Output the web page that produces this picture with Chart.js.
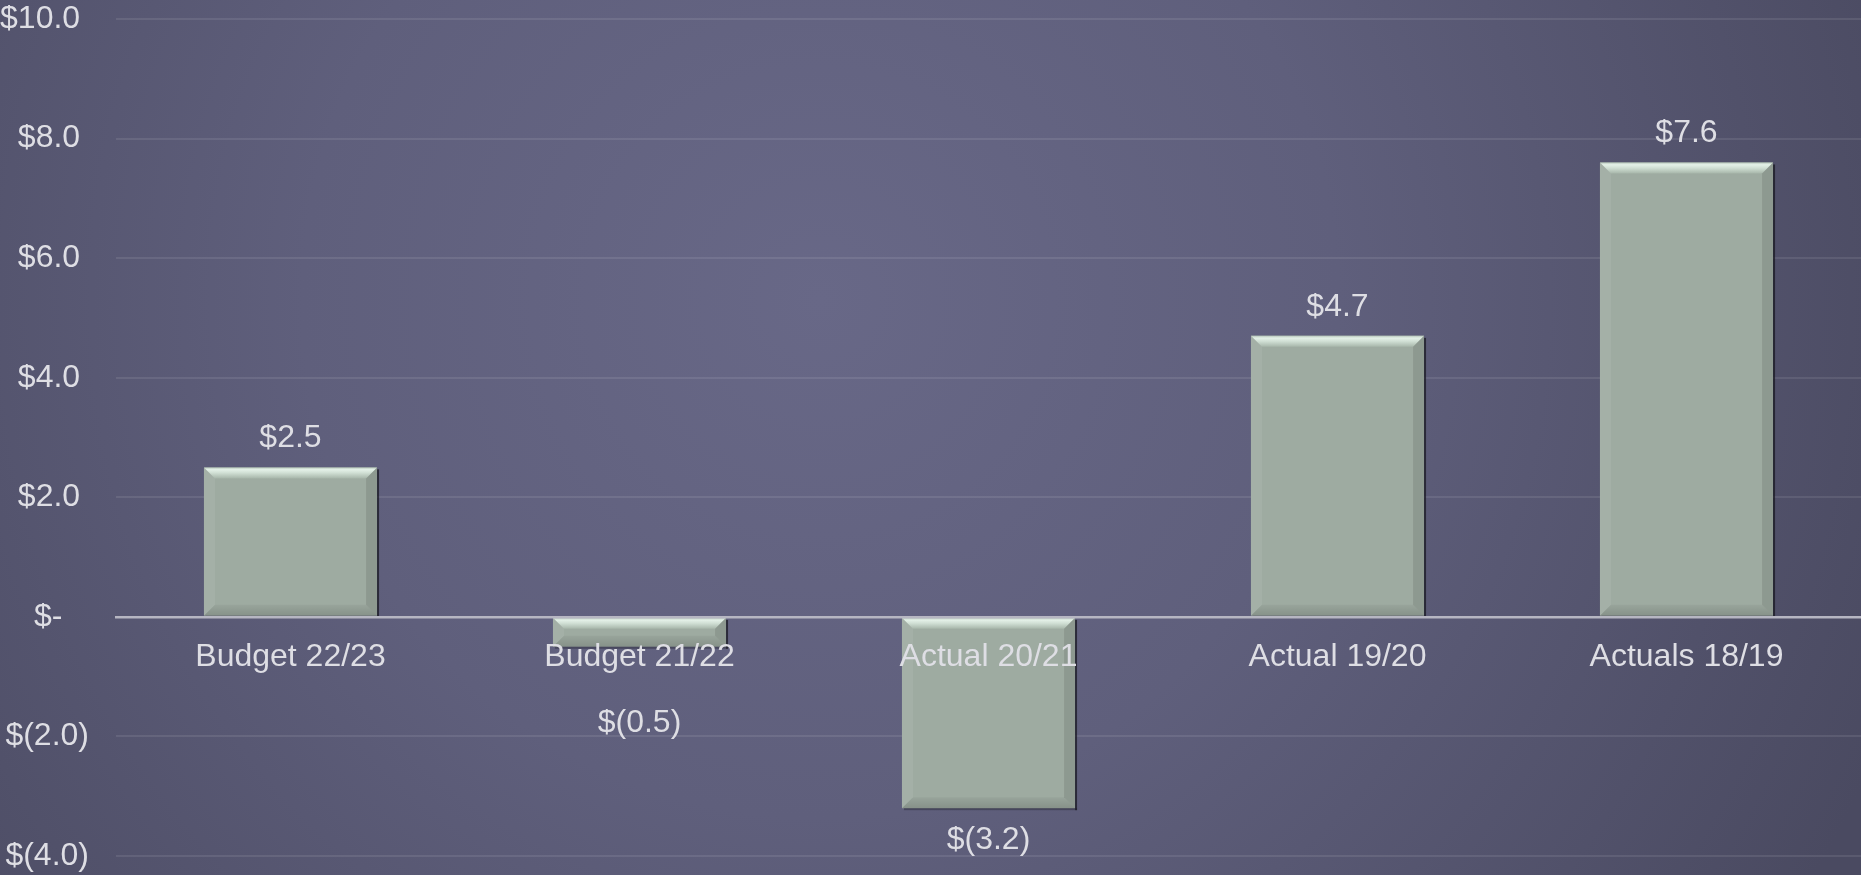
<!DOCTYPE html>
<html>
<head>
<meta charset="utf-8">
<script src="https://cdn.jsdelivr.net/npm/chart.js@4/dist/chart.umd.min.js"></script>
<style>
html,body{margin:0;padding:0;background:#55556e;overflow:hidden;}
#wrap{width:1861px;height:875px;}
</style>
</head>
<body>
<div id="wrap"><canvas id="c" width="1861" height="875"></canvas></div>
<script>
const categories = ["Budget 22/23", "Budget 21/22", "Actual 20/21", "Actual 19/20", "Actuals 18/19"];
const values = [2.5, -0.5, -3.2, 4.7, 7.6];
const yMin = -4, yMax = 10, yStep = 2;

const FONT = '"Liberation Sans", Arial, sans-serif';
const TEXT = '#dedee4';

function money(v) {
  if (Math.abs(v) < 1e-9) return '$-   ';
  if (v > 0) return '$' + v.toFixed(1) + ' ';
  return '$(' + (-v).toFixed(1) + ')';
}
function moneyLabel(v) {
  return v >= 0 ? '$' + v.toFixed(1) : '$(' + (-v).toFixed(1) + ')';
}

const bgPlugin = {
  id: 'bg',
  beforeDraw(chart) {
    const ctx = chart.ctx, w = chart.width, h = chart.height;
    ctx.save();
    const g = ctx.createRadialGradient(820, 300, 0, 820, 300, 1150);
    g.addColorStop(0, '#686887');
    g.addColorStop(0.45, '#5f5f7c');
    g.addColorStop(1, '#4a4a61');
    ctx.fillStyle = g;
    ctx.fillRect(0, 0, w, h);
    ctx.restore();
  }
};

const bevelPlugin = {
  id: 'bevel',
  afterDatasetsDraw(chart) {
    const ctx = chart.ctx;
    const meta = chart.getDatasetMeta(0);
    ctx.save();
    meta.data.forEach(el => {
      const p = el.getProps(['x', 'y', 'base', 'width'], true);
      const l = p.x - p.width / 2, r = p.x + p.width / 2;
      const t = Math.min(p.y, p.base), b = Math.max(p.y, p.base);
      const h = b - t;
      const bv = Math.min(11, h / 2.6);
      ctx.fillStyle = 'rgba(25,25,35,0.75)';
      ctx.fillRect(r, t + 2, 2, h);
      ctx.fillStyle = 'rgba(25,25,35,0.35)';
      ctx.fillRect(l + 2, b, p.width, 2);
      let g = ctx.createLinearGradient(0, t, 0, t + bv);
      g.addColorStop(0, '#b9c9bd');
      g.addColorStop(0.2, '#e4f1e8');
      g.addColorStop(0.5, '#d0dfd4');
      g.addColorStop(1, '#a7b6aa');
      ctx.fillStyle = g;
      ctx.beginPath();
      ctx.moveTo(l, t); ctx.lineTo(r, t); ctx.lineTo(r - bv, t + bv); ctx.lineTo(l + bv, t + bv); ctx.closePath();
      ctx.fill();
      ctx.fillStyle = 'rgba(255,255,255,0.07)';
      ctx.beginPath();
      ctx.moveTo(l, t); ctx.lineTo(l + bv, t + bv); ctx.lineTo(l + bv, b - bv); ctx.lineTo(l, b); ctx.closePath();
      ctx.fill();
      ctx.fillStyle = 'rgba(0,0,0,0.10)';
      ctx.beginPath();
      ctx.moveTo(r, t); ctx.lineTo(r - bv, t + bv); ctx.lineTo(r - bv, b - bv); ctx.lineTo(r, b); ctx.closePath();
      ctx.fill();
      g = ctx.createLinearGradient(0, b - bv, 0, b);
      g.addColorStop(0, 'rgba(0,0,0,0.04)');
      g.addColorStop(1, 'rgba(0,0,0,0.15)');
      ctx.fillStyle = g;
      ctx.beginPath();
      ctx.moveTo(l, b); ctx.lineTo(r, b); ctx.lineTo(r - bv, b - bv); ctx.lineTo(l + bv, b - bv); ctx.closePath();
      ctx.fill();
    });
    ctx.restore();
  }
};

const labelPlugin = {
  id: 'vlabels',
  afterDraw(chart) {
    const ctx = chart.ctx;
    const meta = chart.getDatasetMeta(0);
    const zeroY = chart.scales.y.getPixelForValue(0);
    ctx.save();
    ctx.font = '32px ' + FONT;
    ctx.fillStyle = TEXT;
    ctx.textAlign = 'center';
    ctx.textBaseline = 'alphabetic';
    meta.data.forEach((el, i) => {
      const v = values[i];
      const p = el.getProps(['x', 'y', 'base'], true);
      let yy;
      if (v >= 0) yy = Math.min(p.y, p.base) - 20;
      else yy = Math.max(Math.max(p.y, p.base) + 41, zeroY + 115);
      ctx.fillText(moneyLabel(v), p.x, yy);
    });
    ctx.restore();
  }
};

new Chart(document.getElementById('c'), {
  type: 'bar',
  data: {
    labels: categories,
    datasets: [{
      data: values,
      backgroundColor: '#9eaba1',
      borderWidth: 0,
      barPercentage: 0.496,
      categoryPercentage: 1.0
    }]
  },
  options: {
    responsive: false,
    animation: false,
    events: [],
    layout: { padding: { top: 19, bottom: 19, left: 0, right: 0 } },
    plugins: { legend: { display: false }, tooltip: { enabled: false } },
    scales: {
      x: {
        position: { y: 0 },
        grid: { display: false, drawTicks: false },
        border: { display: true, color: '#b6b6c2', width: 2.5, z: 1 },
        ticks: { z: 2, color: TEXT, font: { family: FONT, size: 32 }, padding: 21, maxRotation: 0, autoSkip: false }
      },
      y: {
        min: yMin, max: yMax,
        afterFit(scale) { scale.width = 116; scale.paddingTop = 0; scale.paddingBottom = 0; },
        grid: { color: 'rgba(255,255,255,0.09)', lineWidth: 2, drawTicks: false },
        border: { display: false },
        ticks: {
          stepSize: yStep,
          color: TEXT,
          font: { family: FONT, size: 32 },
          padding: 27,
          callback: v => money(v)
        }
      }
    }
  },
  plugins: [bgPlugin, bevelPlugin, labelPlugin]
});
</script>
</body>
</html>
